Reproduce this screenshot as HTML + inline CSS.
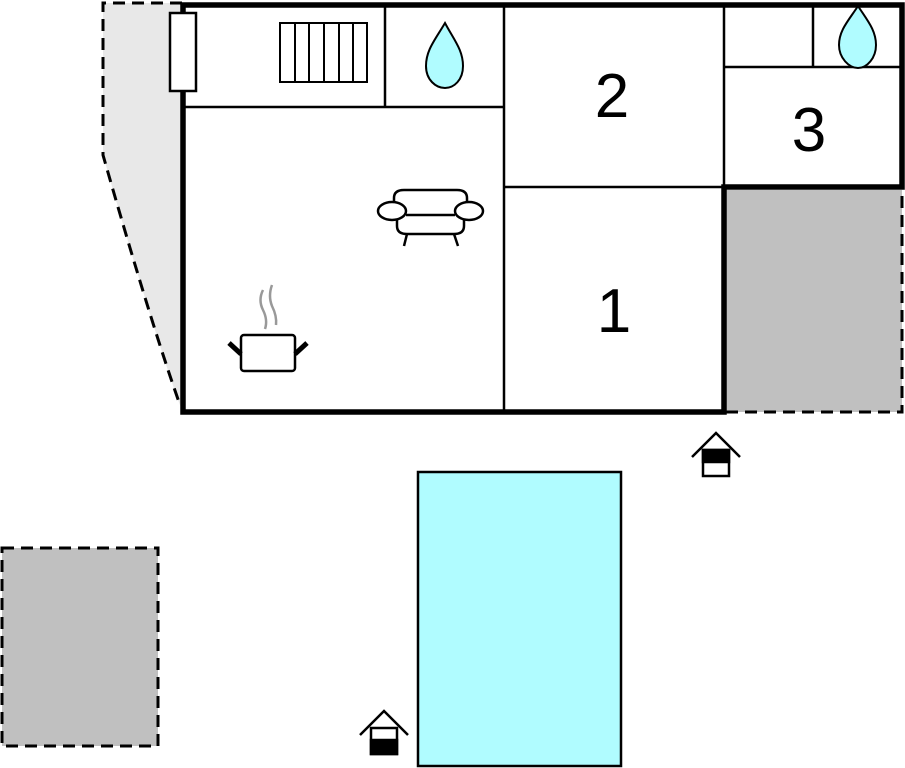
<!DOCTYPE html>
<html><head><style>body{margin:0;background:#fff}svg{display:block}</style></head><body>
<svg width="905" height="768" viewBox="0 0 905 768" xmlns="http://www.w3.org/2000/svg">
<path d="M103,3 L182,3 L182,410 L178,400 Q150,320 103,155 Z" fill="#e8e8e8" stroke="none"/>
<path d="M182,3 L103,3 L103,155 Q150,320 180,405" fill="none" stroke="#000" stroke-width="3" stroke-dasharray="12,7"/>
<rect x="726" y="190" width="176" height="222" fill="#c0c0c0"/>
<path d="M726,412 L902,412 L902,190" fill="none" stroke="#000" stroke-width="3" stroke-dasharray="12,7"/>
<rect x="2" y="548" width="156" height="198" fill="#c0c0c0" stroke="#000" stroke-width="3" stroke-dasharray="12,7"/>
<rect x="418" y="472" width="203" height="294" fill="#b0fcff" stroke="#000" stroke-width="2.5"/>
<g stroke="#000" fill="none">
<g stroke-width="2.5">
<line x1="183" y1="107" x2="504" y2="107"/>
<line x1="385" y1="5" x2="385" y2="107"/>
<line x1="504" y1="5" x2="504" y2="412"/>
<line x1="504" y1="187" x2="724" y2="187"/>
<line x1="724" y1="5" x2="724" y2="187"/>
<line x1="724" y1="67" x2="902" y2="67"/>
<line x1="813" y1="5" x2="813" y2="67"/>
</g>
<path d="M183,5 L902,5 L902,187 L724,187 L724,412 L183,412 Z" stroke-width="5.5"/>
</g>
<rect x="170" y="13" width="26" height="78" fill="#fff" stroke="#000" stroke-width="2.5"/>
<g stroke="#000" stroke-width="2" fill="none">
<rect x="280" y="23" width="87" height="59"/>
<line x1="295" y1="23" x2="295" y2="82"/><line x1="309" y1="23" x2="309" y2="82"/><line x1="324" y1="23" x2="324" y2="82"/><line x1="339" y1="23" x2="339" y2="82"/><line x1="353" y1="23" x2="353" y2="82"/>
</g>
<path d="M445,23 C435,40 426,50 426,66 C426,80 436,88 445,88 C454,88 463,80 463,66 C463,50 454,40 445,23 Z" fill="#b0fcff" stroke="#000" stroke-width="2"/>
<path d="M858,6 C849,20 839,30 839,45 C839,58 849,68 858,68 C867,68 876,58 876,45 C876,30 867,20 858,6 Z" fill="#b0fcff" stroke="#000" stroke-width="2"/>
<g stroke="#000" stroke-width="2.5" fill="#fff">
<path d="M394,208 L394,198 Q394,190 404,190 L457,190 Q467,190 467,198 L467,208"/>
<path d="M397,215 L397,226 Q397,234 407,234 L454,234 Q464,234 464,226 L464,215"/>
<ellipse cx="392" cy="211" rx="14" ry="9"/>
<ellipse cx="469" cy="211" rx="14" ry="9"/>
<line x1="406" y1="215" x2="455" y2="215"/>
<line x1="407" y1="234" x2="404" y2="246"/>
<line x1="454" y1="234" x2="458" y2="246"/>
<rect x="241" y="335" width="54" height="36" rx="3"/>
</g>
<g stroke="#000" stroke-width="5"><line x1="229" y1="343" x2="241" y2="354"/><line x1="307" y1="343" x2="295" y2="354"/></g>
<g stroke="#999" stroke-width="2.5" fill="none"><path d="M263,290 Q258,300 263,310 Q268,320 265,329"/><path d="M272,285 Q268,296 272,306 Q277,316 276,325"/></g>
<g font-family="Liberation Sans, sans-serif" font-size="62" text-anchor="middle" fill="#000">
<text x="612" y="117">2</text><text x="809" y="151">3</text><text x="614" y="332">1</text></g>
<g stroke="#000" stroke-width="2.5" fill="#fff">
<path d="M692,457 L716,433 L740,457" fill="none"/><rect x="703" y="450" width="26" height="26"/><rect x="703" y="450" width="26" height="12" fill="#000"/>
<path d="M360,735 L384,711 L408,735" fill="none"/><rect x="371" y="728" width="26" height="26"/><rect x="371" y="740" width="26" height="14" fill="#000"/>
</g>
</svg>
</body></html>
